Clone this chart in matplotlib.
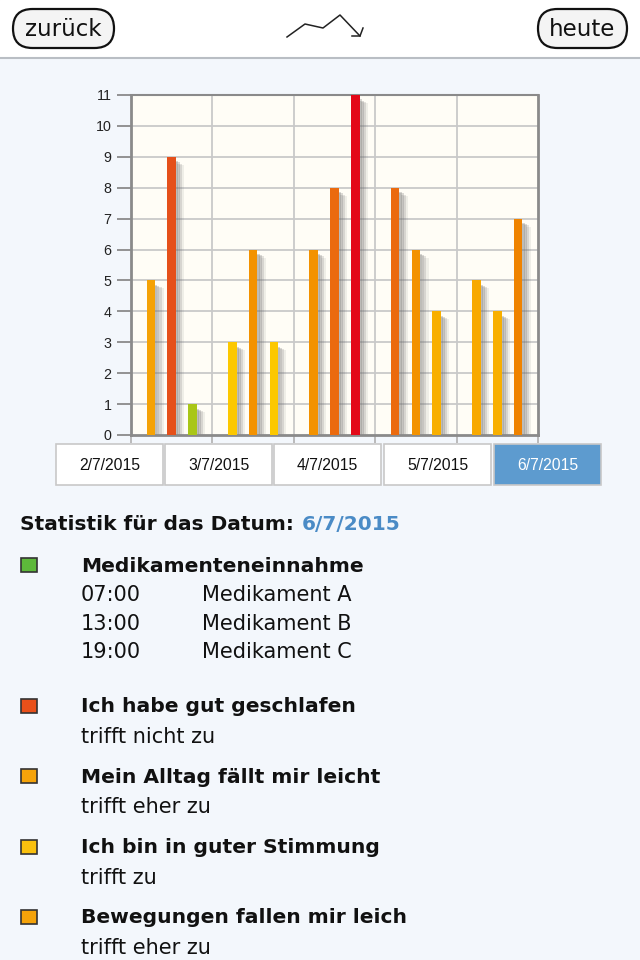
import matplotlib.pyplot as plt
from matplotlib.patches import FancyBboxPatch, Rectangle

plt.rcParams['font.family'] = ['Liberation Sans', 'DejaVu Sans']

# chart data
dates = ["2/7/2015", "3/7/2015", "4/7/2015", "5/7/2015", "6/7/2015"]
values = [
    [5, 9, 1],
    [3, 6, 3],
    [6, 8, 11],
    [8, 6, 4],
    [5, 4, 7],
]
bar_colors = [
    ["#F5A205", "#E5501A", "#A9C617"],
    ["#FCC800", "#F39200", "#FCC800"],
    ["#F39200", "#EB6A0E", "#E30818"],
    ["#EB6A0E", "#F39200", "#F8AF00"],
    ["#F8A900", "#F8AF00", "#EF8300"],
]
yticks = list(range(0, 12))
selected = 4

# details text
stat_title = "Statistik für das Datum:"
med_title = "Medikamenteneinnahme"
med_times = ["07:00", "13:00", "19:00"]
med_names = ["Medikament A", "Medikament B", "Medikament C"]
items = ["Ich habe gut geschlafen", "Mein Alltag fällt mir leicht",
         "Ich bin in guter Stimmung", "Bewegungen fallen mir leich"]
answers = ["trifft nicht zu", "trifft eher zu", "trifft zu", "trifft eher zu"]
item_colors = ["#E8501A", "#F5A30A", "#F9C00E", "#F5A30A"]
med_color = "#5DB83A"

W, H = 640, 960
fig = plt.figure(figsize=(W / 100, H / 100), dpi=100)
fig.patch.set_facecolor("#F3F7FC")

bg = fig.add_axes([0, 0, 1, 1], zorder=0)
bg.set_xlim(0, W)
bg.set_ylim(H, 0)
bg.axis("off")

# wider face to match the horizontally stretched screenshot
tf = ['DejaVu Sans']

# header
bg.add_patch(Rectangle((0, 0), W, 57, color="white", zorder=1))
bg.plot([0, W], [57.5, 57.5], color="#B9BEC4", lw=1.5, zorder=2)
for x0, w, label in [(13, 101, "zurück"), (538, 89, "heute")]:
    bg.add_patch(FancyBboxPatch((x0, 9), w, 39, boxstyle="round,pad=0,rounding_size=19.5",
                                fc="#F4F4F4", ec="#111111", lw=1.6, zorder=3))
    bg.text(x0 + w / 2, 29, label, ha="center", va="center", fontsize=16.5,
            color="#111111", family=tf, zorder=4)
bg.plot([287, 305, 323, 340, 360], [37, 24, 28, 15, 36], color="#222222", lw=1.1, zorder=3)
bg.plot([352, 360, 363], [36, 36, 28], color="#222222", lw=1.1, zorder=3)

# date buttons
cell_x = [56, 165, 274, 384, 494]
for i, (x0, d) in enumerate(zip(cell_x, dates)):
    sel = i == selected
    bg.add_patch(Rectangle((x0, 444), 107, 41, fc="#5D9BCF" if sel else "white",
                           ec="#C8C8C8", lw=1.2, zorder=2))
    bg.text(x0 + 53.5, 465, d, ha="center", va="center", fontsize=11.3,
            color="white" if sel else "#111111", zorder=3)

# statistics text
bg.text(20, 524, stat_title, ha="left", va="center", fontsize=14.5, fontweight="bold",
        color="#111111", family=tf)
bg.text(302, 524, dates[selected], ha="left", va="center", fontsize=14.5, fontweight="bold",
        color="#4A8BC6", family=tf)

def square(y, c):
    bg.add_patch(Rectangle((21, y - 7), 16, 14, fc=c, ec="#333333", lw=1.2, zorder=3))

square(565, med_color)
bg.text(81, 566, med_title, ha="left", va="center", fontsize=14.6, fontweight="bold",
        color="#111111", family=tf)
for k, (t, n) in enumerate(zip(med_times, med_names)):
    y = 595 + k * 28.7
    bg.text(81, y, t, ha="left", va="center", fontsize=15, color="#111111", family=tf)
    bg.text(202, y, n, ha="left", va="center", fontsize=15, color="#111111", family=tf)

for k, (it, ans, c) in enumerate(zip(items, answers, item_colors)):
    y = 706 + k * 70.3
    square(y, c)
    bg.text(81, y + 1, it, ha="left", va="center", fontsize=14.6, fontweight="bold",
            color="#111111", family=tf)
    bg.text(81, y + 31, ans, ha="left", va="center", fontsize=15, color="#111111", family=tf)

# chart
left, right, top, bottom = 131, 538, 95, 435
ax = fig.add_axes([left / W, 1 - bottom / H, (right - left) / W, (bottom - top) / H], zorder=2)
ax.set_facecolor("#FFFDF6")
ax.set_xlim(-0.5, len(dates) - 0.5)
ax.set_ylim(0, 11)

for yv in yticks[1:]:
    ax.axhline(yv, color="#C9C9C9", lw=1.3, zorder=1)
for xv in range(1, len(dates)):
    ax.axvline(xv - 0.5, color="#C9C9C9", lw=1.3, zorder=1)

offsets = [-0.255, 0.0, 0.255]
bw = 0.105
for i, grp in enumerate(values):
    for j, h in enumerate(grp):
        x = i + offsets[j]
        # soft shadow to the right
        for s, a in [(0.03, 0.26), (0.055, 0.24), (0.08, 0.18), (0.105, 0.1)]:
            ax.bar(x + s + 0.02, h - 0.1 - s * 1.5, width=0.06, color="#6a6a6a",
                   alpha=a, lw=0, zorder=2)
        ax.bar(x, h, width=bw, color=bar_colors[i][j], lw=0, zorder=3)

ax.set_yticks(yticks)
ax.set_yticklabels([str(v) for v in yticks], fontsize=10.3, color="#222222")
ax.set_xticks([xv - 0.5 for xv in range(len(dates) + 1)])
ax.set_xticklabels([])
ax.tick_params(axis="y", direction="out", length=10, width=1.3, color="#8A8A8A", pad=4)
ax.tick_params(axis="x", direction="out", length=6, width=1.2, color="#B0B0B0")
for side in ["left", "bottom", "top", "right"]:
    ax.spines[side].set_color("#8A8A8A")
    ax.spines[side].set_linewidth(2)
ax.spines["top"].set_linewidth(1.5)

fig.savefig("out.png", dpi=100, facecolor=fig.get_facecolor())
